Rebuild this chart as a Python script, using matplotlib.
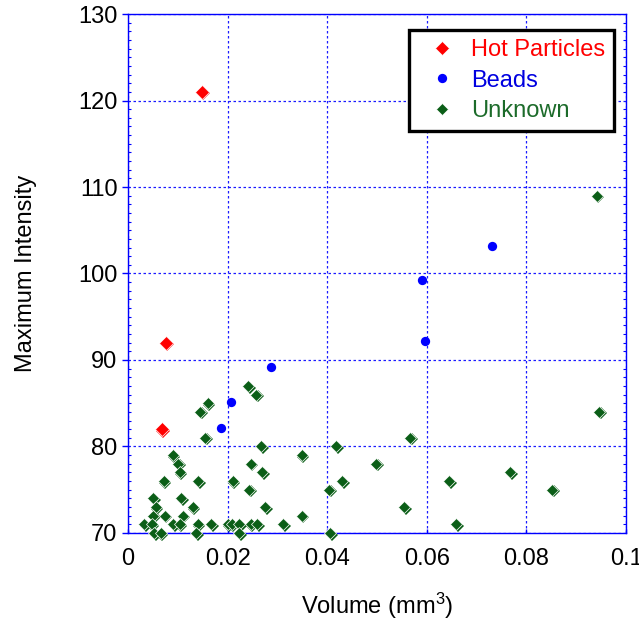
import matplotlib
matplotlib.use("Agg")
import matplotlib.pyplot as plt
from matplotlib.transforms import offset_copy
from matplotlib.ticker import MultipleLocator

plt.rcParams['font.family'] = ['Liberation Sans', 'DejaVu Sans']
plt.rcParams['mathtext.fontset'] = 'custom'
plt.rcParams['mathtext.rm'] = 'Liberation Sans'
plt.rcParams['mathtext.default'] = 'rm'

# ---- data ----
hot_x = [0.0148, 0.0076, 0.0068]
hot_y = [121, 92, 82]

bead_x = [0.0187, 0.0207, 0.0287, 0.0590, 0.0596, 0.0731]
bead_y = [82.1, 85.1, 89.2, 99.3, 92.2, 103.2]

unk_x = [0.0241, 0.0258, 0.0160, 0.0145, 0.0155, 0.0267, 0.0349, 0.0090,
         0.0101, 0.0104, 0.0246, 0.0270, 0.0072, 0.0141, 0.0210, 0.0243,
         0.0051, 0.0107, 0.0056, 0.0130, 0.0276, 0.0051, 0.0074, 0.0110,
         0.0349, 0.0033, 0.0048, 0.0091, 0.0104, 0.0140, 0.0167, 0.0200,
         0.0208, 0.0223, 0.0246, 0.0259, 0.0312, 0.0053, 0.0066, 0.0137,
         0.0223, 0.0946, 0.0418, 0.0567, 0.0498, 0.0430, 0.0404, 0.0768,
         0.0645, 0.0852, 0.0555, 0.0659, 0.0406, 0.0941]
unk_y = [87, 86, 85, 84, 81, 80, 79, 79,
         78, 77, 78, 77, 76, 76, 76, 75,
         74, 74, 73, 73, 73, 72, 72, 72,
         72, 71, 71, 71, 71, 71, 71, 71,
         71, 71, 71, 71, 71, 70, 70, 70,
         70, 84, 80, 81, 78, 76, 75, 77,
         76, 75, 73, 71, 70, 109]

x_ticks = [0, 0.02, 0.04, 0.06, 0.08, 0.1]
x_ticklabels = ['0', '0.02', '0.04', '0.06', '0.08', '0.1']
y_ticks = [70, 80, 90, 100, 110, 120, 130]

RED = '#ff0000'
BLUE = '#0000ff'
GREEN = '#0b5e17'
AXCOL = '#0000ff'
FS = 17

fig = plt.figure(figsize=(6.39, 6.23), dpi=100)
ax = fig.add_axes([0.2003, 0.1445, 0.7794, 0.8330])

# shadow copies (small offset down-right), then the markers on top
shadow = offset_copy(ax.transData, fig=fig, x=1.6, y=-1.6, units='dots')
ax.plot(hot_x, hot_y, 'D', color=RED, ms=7.0, mew=0, transform=shadow, clip_on=False, zorder=3)
ax.plot(unk_x, unk_y, 'D', color=GREEN, ms=6.0, mew=0, transform=shadow, clip_on=False, zorder=3)

h_hot, = ax.plot(hot_x, hot_y, 'D', color=RED, ms=7.0, mec='white', mew=0.5,
                 clip_on=False, zorder=4, label='Hot Particles')
h_bead, = ax.plot(bead_x, bead_y, 'o', color=BLUE, ms=6.7, mew=0,
                  clip_on=False, zorder=4, label='Beads')
h_unk, = ax.plot(unk_x, unk_y, 'D', color=GREEN, ms=6.0, mec='white', mew=0.5,
                 clip_on=False, zorder=4, label='Unknown')

ax.set_xlim(0, 0.1)
ax.set_ylim(70, 130)
ax.set_xticks(x_ticks)
ax.set_xticklabels(x_ticklabels)
ax.set_yticks(y_ticks)
ax.yaxis.set_minor_locator(MultipleLocator(1))

for s in ax.spines.values():
    s.set_color(AXCOL)
    s.set_linewidth(1.0)

ax.tick_params(axis='both', which='major', labelsize=FS, colors=AXCOL, labelcolor='black')
ax.tick_params(axis='y', which='major', direction='out', length=4, width=1, pad=3.5)
ax.tick_params(axis='x', which='major', direction='in', length=3, width=1, pad=11)
ax.tick_params(axis='y', which='minor', direction='in', length=2, width=0.8,
               colors=AXCOL, left=True, right=True)

ax.grid(True, which='major', color='#1a1aff', linestyle=(0, (2, 2)), linewidth=0.9)
ax.set_axisbelow(True)

ax.set_xlabel('Volume (mm$^3$)', fontsize=FS, labelpad=15)
ax.set_ylabel('Maximum Intensity', fontsize=FS, labelpad=30)

leg = ax.legend(handles=[h_hot, h_bead, h_unk], loc='upper right',
                bbox_to_anchor=(0.976, 0.969), borderaxespad=0, fontsize=FS,
                frameon=True, fancybox=False, framealpha=1, edgecolor='black',
                handlelength=2.0, handletextpad=0.23, labelspacing=0.36,
                borderpad=0.38, markerscale=1.0)
leg.get_frame().set_linewidth(2.4)
for txt, col in zip(leg.get_texts(), [RED, '#0000e0', '#1c6b2a']):
    txt.set_color(col)

fig.savefig('out.png', dpi=100)
